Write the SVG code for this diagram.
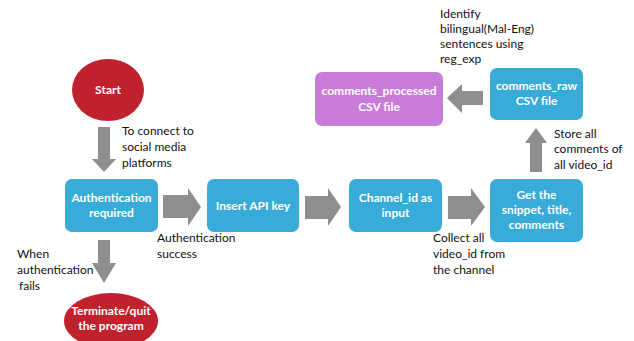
<svg xmlns="http://www.w3.org/2000/svg" width="634" height="341" viewBox="0 0 634 341">
<style>
.box{fill:#38ABD8;}
.proc{fill:#C97BD9;}
.term{fill:#C0222D;}
.arr{fill:#8E8E8E;}
.wt{font-family:Lato,"Liberation Sans",sans-serif;font-size:12px;font-weight:bold;fill:#FFFFFF;text-anchor:middle;}
.lb{font-family:Lato,"Liberation Sans",sans-serif;font-size:12px;fill:#111111;}
</style>
<rect width="634" height="341" fill="#FFFFFF"/>
<g id="connectors">
<polygon class="arr" points="98,127 110,127 110,159 116,159 104,172 92,159 98,159"/>
<polygon class="arr" points="98,240 110,240 110,263 116,263 104,283 92,263 98,263"/>
<polygon class="arr" points="163,195 188,195 188,188 201,207 188,226 188,218 163,218"/>
<polygon class="arr" points="305,196 328,196 328,188 341,207 328,226 328,219 305,219"/>
<polygon class="arr" points="448,196 471,196 471,188 485,207 471,226 471,219 448,219"/>
<polygon class="arr" points="530,172 542,172 542,143 547,143 536,128 525,143 530,143"/>
<polygon class="arr" points="483,91 483,105 462,105 462,113 447,98 462,84 462,91"/>
<text class="lb" x="122" y="135">To connect to</text>
<text class="lb" x="122" y="151">social media</text>
<text class="lb" x="122" y="167">platforms</text>
<text class="lb" x="157" y="242">Authentication</text>
<text class="lb" x="157" y="258">success</text>
<text class="lb" x="17" y="258">When</text>
<text class="lb" x="17" y="274">authentication</text>
<text class="lb" x="19" y="290">fails</text>
<text class="lb" x="433" y="242">Collect all</text>
<text class="lb" x="433" y="258">video_id from</text>
<text class="lb" x="433" y="274">the channel</text>
<text class="lb" x="554" y="138">Store all</text>
<text class="lb" x="554" y="153">comments of</text>
<text class="lb" x="554" y="169">all video_id</text>
<text class="lb" x="440" y="18">Identify</text>
<text class="lb" x="440" y="33">bilingual(Mal-Eng)</text>
<text class="lb" x="440" y="48">sentences using</text>
<text class="lb" x="440" y="63">reg_exp</text>
</g>
<g id="start">
<ellipse class="term" cx="108" cy="90" rx="36" ry="31"/>
<text class="wt" x="108" y="94">Start</text>
</g>
<g id="auth">
<rect class="box" x="65" y="179" width="93" height="53" rx="7"/>
<text class="wt" x="111.5" y="202">Authentication</text>
<text class="wt" x="111.5" y="217">required</text>
</g>
<g id="terminate">
<ellipse class="term" cx="111" cy="321" rx="47" ry="28"/>
<text class="wt" x="111" y="315">Terminate/quit</text>
<text class="wt" x="111" y="330">the program</text>
</g>
<g id="apikey">
<rect class="box" x="207" y="179" width="92" height="53" rx="7"/>
<text class="wt" x="253" y="210">Insert API key</text>
</g>
<g id="channel">
<rect class="box" x="349" y="179" width="93" height="53" rx="7"/>
<text class="wt" x="395.5" y="202">Channel_id as</text>
<text class="wt" x="395.5" y="217">input</text>
</g>
<g id="snippet">
<rect class="box" x="490" y="179" width="93" height="63" rx="7"/>
<text class="wt" x="536.5" y="199">Get the</text>
<text class="wt" x="536.5" y="214">snippet, title,</text>
<text class="wt" x="536.5" y="229">comments</text>
</g>
<g id="raw">
<rect class="box" x="490" y="68" width="93" height="52" rx="7"/>
<text class="wt" x="536.5" y="90">comments_raw</text>
<text class="wt" x="536.5" y="105">CSV file</text>
</g>
<g id="processed">
<rect class="proc" x="315" y="72" width="128" height="54" rx="7"/>
<text class="wt" x="379" y="95">comments_processed</text>
<text class="wt" x="379" y="111">CSV file</text>
</g>
</svg>
